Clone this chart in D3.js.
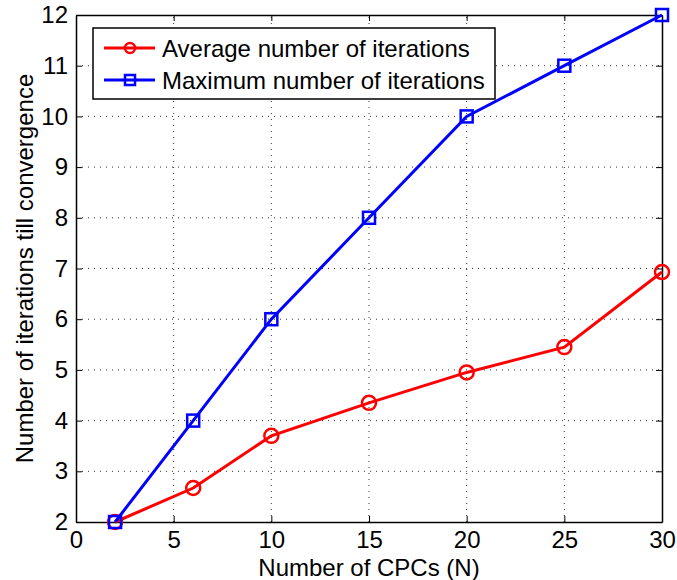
<!DOCTYPE html>
<html lang="en">
<head>
<meta charset="UTF-8">
<script src="https://d3js.org/d3.v7.min.js"></script>
<style>
    body { margin: 0; background: white; }
    text { font-family: "Liberation Sans", Arial, sans-serif; fill: black; }
</style>
</head>
<body>
<div id="chart"></div>
<script>
    // data
    const cpcs = [2, 6, 10, 15, 20, 25, 30];
    const avgIterations = [2, 2.67, 3.7, 4.35, 4.95, 5.45, 6.93];
    const maxIterations = [2, 4, 6, 8, 10, 11, 12];
    const xTicks = [0, 5, 10, 15, 20, 25, 30];
    const yTicks = [2, 3, 4, 5, 6, 7, 8, 9, 10, 11, 12];

    const width = 677, height = 580;
    const margin = {left: 76, right: 15, top: 15, bottom: 58};

    const svg = d3.select("#chart").append("svg")
        .attr("width", width)
        .attr("height", height);

    const x = d3.scaleLinear().domain([0, 30]).range([margin.left, width - margin.right]);
    const y = d3.scaleLinear().domain([2, 12]).range([height - margin.bottom, margin.top]);

    // dotted grid
    svg.append("g").selectAll("line")
        .data(xTicks.slice(1, -1))
        .enter().append("line")
        .attr("x1", d => x(d)).attr("x2", d => x(d))
        .attr("y1", y(2)).attr("y2", y(12))
        .attr("stroke", "#333").attr("stroke-width", 1).attr("stroke-dasharray", "1,5");
    svg.append("g").selectAll("line")
        .data(yTicks.slice(1, -1))
        .enter().append("line")
        .attr("x1", x(0)).attr("x2", x(30))
        .attr("y1", d => y(d)).attr("y2", d => y(d))
        .attr("stroke", "#333").attr("stroke-width", 1).attr("stroke-dasharray", "1,5");

    // axes with inward ticks
    const fontSize = "24px";
    const axBottom = svg.append("g").attr("transform", `translate(0,${y(2)})`)
        .call(d3.axisBottom(x).tickValues(xTicks).tickSizeInner(-6).tickSizeOuter(0).tickPadding(9));
    const axTop = svg.append("g").attr("transform", `translate(0,${y(12)})`)
        .call(d3.axisTop(x).tickValues(xTicks).tickSizeInner(-6).tickSizeOuter(0).tickFormat(""));
    const axLeft = svg.append("g").attr("transform", `translate(${x(0)},0)`)
        .call(d3.axisLeft(y).tickValues(yTicks).tickSizeInner(-6).tickSizeOuter(0).tickPadding(8));
    const axRight = svg.append("g").attr("transform", `translate(${x(30)},0)`)
        .call(d3.axisRight(y).tickValues(yTicks).tickSizeInner(-6).tickSizeOuter(0).tickFormat(""));

    [axBottom, axTop, axLeft, axRight].forEach(g => {
        g.select(".domain").attr("stroke", "black").attr("stroke-width", 1.5);
        g.selectAll(".tick line").attr("stroke", "black");
        g.selectAll(".tick text").style("font-size", fontSize)
            .style("font-family", "'Liberation Sans', Arial, sans-serif");
    });

    // axis labels
    svg.append("text")
        .attr("x", (x(0) + x(30)) / 2).attr("y", 576)
        .attr("text-anchor", "middle").style("font-size", fontSize)
        .text("Number of CPCs (N)");
    svg.append("text")
        .attr("transform", `translate(33,${(y(2) + y(12)) / 2}) rotate(-90)`)
        .attr("text-anchor", "middle").style("font-size", fontSize)
        .text("Number of iterations till convergence");

    const line = d3.line().x(d => x(d[0])).y(d => y(d[1]));
    const avgPts = cpcs.map((c, i) => [c, avgIterations[i]]);
    const maxPts = cpcs.map((c, i) => [c, maxIterations[i]]);

    // average series (red circles)
    svg.append("path").datum(avgPts)
        .attr("d", line).attr("fill", "none")
        .attr("stroke", "#ff0000").attr("stroke-width", 3);
    svg.append("g").selectAll("circle")
        .data(avgPts).enter().append("circle")
        .attr("cx", d => x(d[0])).attr("cy", d => y(d[1])).attr("r", 7)
        .attr("fill", "none").attr("stroke", "#ff0000").attr("stroke-width", 2.5);

    // maximum series (blue squares)
    svg.append("path").datum(maxPts)
        .attr("d", line).attr("fill", "none")
        .attr("stroke", "#0000ff").attr("stroke-width", 3);
    svg.append("g").selectAll("rect")
        .data(maxPts).enter().append("rect")
        .attr("x", d => x(d[0]) - 6).attr("y", d => y(d[1]) - 6)
        .attr("width", 12).attr("height", 12)
        .attr("fill", "none").attr("stroke", "#0000ff").attr("stroke-width", 2.5);

    // legend
    const legend = svg.append("g");
    legend.append("rect")
        .attr("x", 93).attr("y", 28).attr("width", 402).attr("height", 71)
        .attr("fill", "white").attr("stroke", "black").attr("stroke-width", 1.5);
    const entries = [
        {label: "Average number of iterations", color: "#ff0000", shape: "circle", yy: 48},
        {label: "Maximum number of iterations", color: "#0000ff", shape: "square", yy: 80}
    ];
    entries.forEach(e => {
        legend.append("line")
            .attr("x1", 104).attr("x2", 155).attr("y1", e.yy).attr("y2", e.yy)
            .attr("stroke", e.color).attr("stroke-width", 3);
        if (e.shape === "circle") {
            legend.append("circle").attr("cx", 130).attr("cy", e.yy).attr("r", 5)
                .attr("fill", "none").attr("stroke", e.color).attr("stroke-width", 2.5);
        } else {
            legend.append("rect").attr("x", 125).attr("y", e.yy - 5).attr("width", 10).attr("height", 10)
                .attr("fill", "none").attr("stroke", e.color).attr("stroke-width", 2.5);
        }
        legend.append("text")
            .attr("x", 162).attr("y", e.yy + 9)
            .style("font-size", fontSize)
            .text(e.label);
    });
</script>
</body>
</html>
